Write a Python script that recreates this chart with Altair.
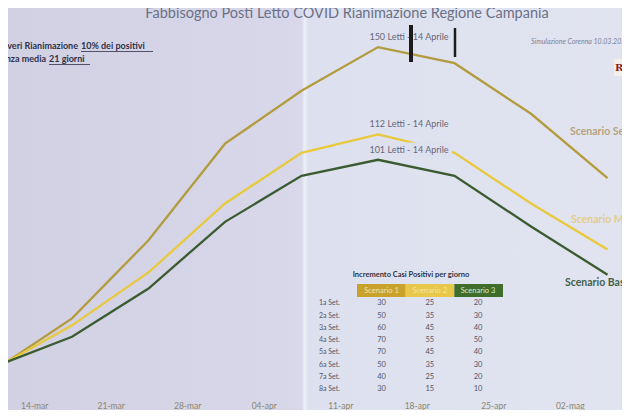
import altair as alt
import pandas as pd

# ---------------- data ----------------
dates = ["2020-03-11", "2020-03-17", "2020-03-24", "2020-03-31", "2020-04-07",
         "2020-04-14", "2020-04-21", "2020-04-28", "2020-05-05"]
severo = [13, 32, 66, 108, 131, 150, 143, 121, 93]
moderato = [13, 29, 52, 82, 104, 112, 104, 82, 62]
base = [13, 24, 45, 74, 94, 101, 94, 72, 51]
scenari = ["Scenario Severo", "Scenario Moderato", "Scenario Base"]
line_colors = ["#b39c3e", "#e9c93c", "#3b5b30"]

tick_dates = ["2020-03-14", "2020-03-21", "2020-03-28", "2020-04-04",
              "2020-04-11", "2020-04-18", "2020-04-25", "2020-05-02"]

peak_date = "2020-04-14"
peak_values = [150, 112, 101]
peak_labels = ["150 Letti - 14 Aprile", "112 Letti - 14 Aprile", "101 Letti - 14 Aprile"]

table_title = "Incremento Casi Positivi per giorno"
table_cols = ["Scenario 1", "Scenario 2", "Scenario 3"]
table_weeks = ["1a Set.", "2a Set.", "3a Set.", "4a Set.", "5a Set.", "6a Set.", "7a Set.", "8a Set."]
inc_s1 = [30, 50, 60, 70, 70, 50, 40, 30]
inc_s2 = [25, 35, 45, 55, 45, 35, 25, 15]
inc_s3 = [20, 30, 40, 50, 40, 30, 20, 10]
header_colors = ["#c8a22a", "#e8c84a", "#3f6e2c"]
header_text_colors = ["#f3e3a6", "#f6e59a", "#d9e8cc"]

title_text = "Fabbisogno Posti Letto COVID Rianimazione Regione Campania"
sim_text = "Simulazione Corenna 10.03.2020"

FONT = "Lato"

# ---------------- tables ----------------
line_df = pd.DataFrame({
    "date": pd.to_datetime(dates * 3),
    "value": severo + moderato + base,
    "scenario": [scenari[0]] * len(dates) + [scenari[1]] * len(dates) + [scenari[2]] * len(dates),
})
ann_df = pd.DataFrame({
    "date": pd.to_datetime([peak_date] * 3),
    "value": peak_values,
    "label": peak_labels,
})
tab_df = pd.DataFrame({
    "week": table_weeks * 3,
    "col": [table_cols[0]] * 8 + [table_cols[1]] * 8 + [table_cols[2]] * 8,
    "value": inc_s1 + inc_s2 + inc_s3,
})
week_df = pd.DataFrame({"week": table_weeks})
col_df = pd.DataFrame({"col": table_cols})


def dt(s, h=0, m=0):
    y, mo, d = map(int, s.split("-"))
    return alt.DateTime(year=y, month=mo, date=d, hours=h, minutes=m)


W, H = 614, 387
X_SCALE = alt.Scale(domain=[dt("2020-03-11", 3, 28), dt("2020-05-06", 7, 46)], nice=False)
Y_SCALE = alt.Scale(domain=[-1.3, 167.0], nice=False, zero=False)

label_expr = ("timeFormat(datum.value, '%d') + '-' + (month(datum.value) == 2 ? 'mar' : "
              "month(datum.value) == 3 ? 'apr' : 'mag')")

one = pd.DataFrame({"a": [0]})

# ---------------- background ----------------
bg = alt.Chart(one).mark_rect(
    fill=alt.Gradient(
        gradient="linear",
        stops=[
            alt.GradientStop(color="#d2d0e3", offset=0),
            alt.GradientStop(color="#d8d8ea", offset=0.478),
            alt.GradientStop(color="#eef0f8", offset=0.4835),
            alt.GradientStop(color="#dde0ee", offset=0.489),
            alt.GradientStop(color="#e1e4f0", offset=1),
        ],
        x1=0, x2=1, y1=0, y2=0,
    )
).encode(x=alt.value(0), x2=alt.value(W), y=alt.value(0), y2=alt.value(402))

# ---------------- lines ----------------
lines = alt.Chart(line_df).mark_line(strokeWidth=2.3).encode(
    x=alt.X("date:T", scale=X_SCALE, axis=alt.Axis(
        values=[dt(d) for d in tick_dates], labelExpr=label_expr, title=None,
        domain=False, ticks=False, grid=False, labelFont=FONT, labelFontSize=8.5,
        labelColor="#8a876f", labelPadding=6, labelOffset=-5, zindex=2)),
    y=alt.Y("value:Q", scale=Y_SCALE, axis=None),
    color=alt.Color("scenario:N", scale=alt.Scale(domain=scenari, range=line_colors), legend=None),
)

# box hiding part of the yellow line behind the label
label_box = alt.Chart(one).mark_rect(color="#dde0ee").encode(
    x=alt.value(356), x2=alt.value(444), y=alt.value(134.5), y2=alt.value(149.5))

ann = alt.Chart(ann_df).mark_text(font=FONT, fontSize=9, color="#66687a", dx=31, dy=-10).encode(
    x=alt.X("date:T", scale=X_SCALE, axis=None),
    y=alt.Y("value:Q", scale=Y_SCALE, axis=None),
    text="label:N",
)

# pen marks
pen1 = alt.Chart(one).mark_rule(color="#1c1c1c", strokeWidth=4).encode(
    x=alt.value(403), y=alt.value(17), y2=alt.value(54))
pen2 = alt.Chart(one).mark_rule(color="#1c1c1c", strokeWidth=2.5).encode(
    x=alt.value(447), y=alt.value(20), y2=alt.value(49))

# scenario labels on the right
lab_sev = alt.Chart(pd.DataFrame({"t": ["Scenario Severo"]})).mark_text(
    font=FONT, fontSize=10.5, fontWeight="bold", color="#b7a47e", align="left", baseline="middle"
).encode(x=alt.value(562), y=alt.value(124), text="t:N")
lab_mod = alt.Chart(pd.DataFrame({"t": ["Scenario Moderato"]})).mark_text(
    font=FONT, fontSize=10.5, fontWeight="bold", color="#e2cd8c", align="left", baseline="middle"
).encode(x=alt.value(563), y=alt.value(212), text="t:N")
lab_base = alt.Chart(pd.DataFrame({"t": ["Scenario Base"]})).mark_text(
    font=FONT, fontSize=10.5, fontWeight="bold", color="#42604a", align="left", baseline="middle"
).encode(x=alt.value(557), y=alt.value(275), text="t:N")

# ---------------- table ----------------
col_point = alt.Scale(type="point", domain=table_cols, range=[373.5, 470], padding=0)
row_point = alt.Scale(type="point", domain=table_weeks, range=[295.3, 381], padding=0)

tab_title = alt.Chart(pd.DataFrame({"t": [table_title]})).mark_text(
    font=FONT, fontSize=7.5, fontWeight="bold", color="#333340", baseline="middle"
).encode(x=alt.value(403), y=alt.value(267), text="t:N")

head_rect = alt.Chart(col_df).mark_rect().encode(
    x=alt.X("col:N", scale=alt.Scale(type="band", domain=table_cols, range=[349, 495],
                                      paddingInner=0, paddingOuter=0), axis=None),
    y=alt.value(276), y2=alt.value(289),
    color=alt.Color("col:N", scale=alt.Scale(domain=table_cols, range=header_colors), legend=None),
)
head_text = alt.Chart(col_df).mark_text(font=FONT, fontSize=7.5, baseline="middle").encode(
    x=alt.X("col:N", scale=col_point, axis=None),
    y=alt.value(282.5),
    text="col:N",
    color=alt.Color("col:N", scale=alt.Scale(domain=table_cols, range=header_text_colors), legend=None),
)
row_text = alt.Chart(week_df).mark_text(
    font=FONT, fontSize=7, color="#55566a", align="left", baseline="middle"
).encode(x=alt.value(311), y=alt.Y("week:N", scale=row_point, axis=None), text="week:N")
cell_text = alt.Chart(tab_df).mark_text(
    font=FONT, fontSize=7.5, color="#55566a", baseline="middle"
).encode(
    x=alt.X("col:N", scale=col_point, axis=None),
    y=alt.Y("week:N", scale=row_point, axis=None),
    text="value:Q",
)

# ---------------- texts ----------------
title = alt.Chart(pd.DataFrame({"t": [title_text]})).mark_text(
    font=FONT, fontSize=14.5, color="#6b7186", baseline="top"
).encode(x=alt.value(339), y=alt.value(-1), text="t:N")

sim = alt.Chart(pd.DataFrame({"t": [sim_text]})).mark_text(
    font=FONT, fontSize=7, fontStyle="italic", color="#7d8298", align="left", baseline="middle"
).encode(x=alt.value(523), y=alt.value(34), text="t:N")

note1a = alt.Chart(pd.DataFrame({"t": ["Ricoveri Rianimazione"]})).mark_text(
    font=FONT, fontSize=9, fontWeight="bold", color="#30314a", align="right", baseline="alphabetic"
).encode(x=alt.value(70), y=alt.value(41), text="t:N")
note1b = alt.Chart(pd.DataFrame({"t": ["10% dei positivi"]})).mark_text(
    font=FONT, fontSize=9, fontWeight="bold", color="#30314a", align="left", baseline="alphabetic"
).encode(x=alt.value(73), y=alt.value(41), text="t:N")
ul1 = alt.Chart(one).mark_rule(color="#30314a", strokeWidth=0.8).encode(
    x=alt.value(73), x2=alt.value(145), y=alt.value(43.5))
note2a = alt.Chart(pd.DataFrame({"t": ["Degenza media"]})).mark_text(
    font=FONT, fontSize=9, fontWeight="bold", color="#30314a", align="right", baseline="alphabetic"
).encode(x=alt.value(38), y=alt.value(54), text="t:N")
note2b = alt.Chart(pd.DataFrame({"t": ["21 giorni"]})).mark_text(
    font=FONT, fontSize=9, fontWeight="bold", color="#30314a", align="left", baseline="alphabetic"
).encode(x=alt.value(41), y=alt.value(54), text="t:N")
ul2 = alt.Chart(one).mark_rule(color="#30314a", strokeWidth=0.8).encode(
    x=alt.value(41), x2=alt.value(82), y=alt.value(56.5))

# broadcaster logo (partly beyond the right edge)
logo_box = alt.Chart(one).mark_rect(color="#f3efe8").encode(
    x=alt.value(606), x2=alt.value(W), y=alt.value(51), y2=alt.value(68))
logo_text = alt.Chart(pd.DataFrame({"t": ["RE"]})).mark_text(
    font="DejaVu Serif", fontSize=10, fontWeight="bold", color="#8a1c1c", align="left", baseline="middle"
).encode(x=alt.value(607), y=alt.value(59.5), text="t:N")

chart = alt.layer(
    bg, lines, label_box, ann, pen1, pen2, lab_sev, lab_mod, lab_base,
    tab_title, head_rect, head_text, row_text, cell_text,
    title, sim, note1a, note1b, ul1, note2a, note2b, ul2,
    logo_box, logo_text,
).resolve_scale(
    x="independent", y="independent", color="independent"
).properties(
    width=W, height=H,
    autosize=alt.AutoSizeParams(type="none"),
    padding={"left": 0, "top": 0, "right": 0, "bottom": 15},
).configure_view(stroke="transparent").configure(background="#dcdcea")

chart.save("out.html", embed_options={"renderer": "svg", "actions": False})
